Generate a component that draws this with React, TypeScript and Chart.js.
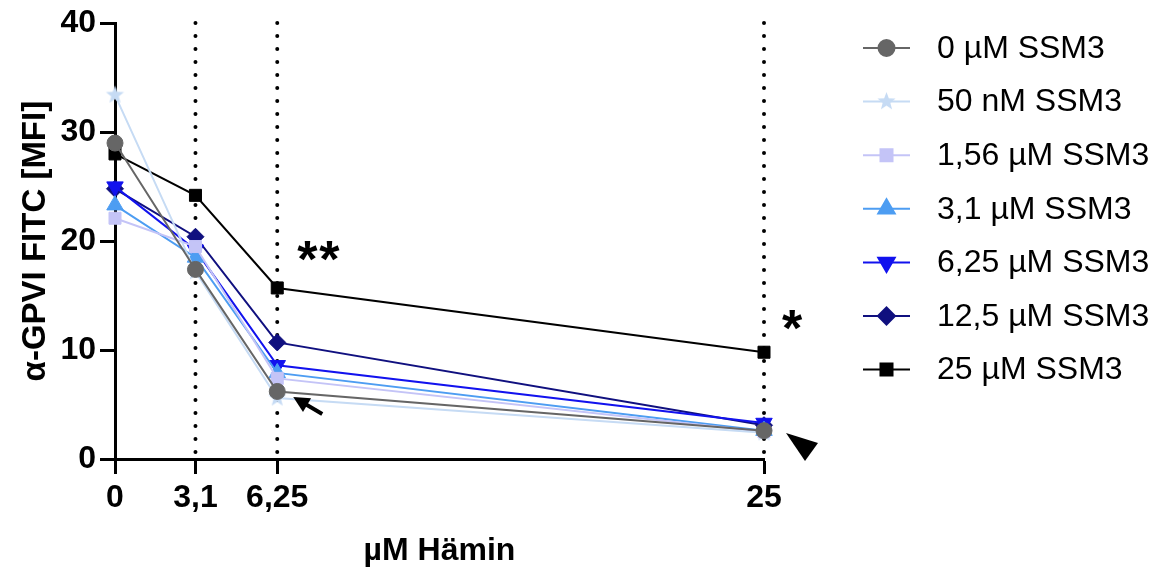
import React, { useEffect, useRef } from "react";
import { Chart, registerables } from "chart.js";
import { drawPoint } from "chart.js/helpers";

Chart.register(...registerables);

// ---- data ----
const heminConc = [0, 3.1, 6.25, 25];
const xTickLabels = ["0", "3,1", "6,25", "25"];
const yTickValues = [0, 10, 20, 30, 40];
const dottedAt = [3.1, 6.25, 25];
const seriesLabels = [
  "0 µM SSM3",
  "50 nM SSM3",
  "1,56 µM SSM3",
  "3,1 µM SSM3",
  "6,25 µM SSM3",
  "12,5 µM SSM3",
  "25 µM SSM3",
];
const ssm3_0 = [29.0, 17.4, 6.2, 2.6];
const ssm3_50n = [33.4, 17.2, 5.6, 2.4];
const ssm3_1_56 = [22.1, 19.5, 7.4, 2.5];
const ssm3_3_1 = [23.3, 18.5, 7.9, 2.6];
const ssm3_6_25 = [25.0, 19.2, 8.6, 3.3];
const ssm3_12_5 = [24.8, 20.4, 10.7, 3.1];
const ssm3_25 = [28.0, 24.2, 15.7, 9.8];
const seriesValues = [ssm3_0, ssm3_50n, ssm3_1_56, ssm3_3_1, ssm3_6_25, ssm3_12_5, ssm3_25];

// ---- styles ----
const seriesColors = ["#666666", "#c6dbf4", "#c4c4f7", "#4d9df2", "#1212ee", "#10107f", "#000000"];
const FONT = "'Liberation Sans', Arial, sans-serif";

function makeStar(color: string, outer: number, inner: number) {
  const c = document.createElement("canvas");
  const s = Math.ceil(outer * 2 + 2);
  c.width = s;
  c.height = s;
  const ctx = c.getContext("2d")!;
  ctx.fillStyle = color;
  ctx.beginPath();
  for (let i = 0; i < 10; i++) {
    const r = i % 2 === 0 ? outer : inner;
    const a = -Math.PI / 2 + (i * Math.PI) / 5;
    const px = s / 2 + r * Math.cos(a);
    const py = s / 2 + r * Math.sin(a);
    if (i === 0) ctx.moveTo(px, py);
    else ctx.lineTo(px, py);
  }
  ctx.closePath();
  ctx.fill();
  return c;
}

export default function App() {
  const ref = useRef<HTMLCanvasElement | null>(null);

  useEffect(() => {
    if (!ref.current) return;
    Chart.defaults.font.family = FONT;
    const star = makeStar(seriesColors[1], 9.5, 4);
    const markerStyles: any[] = [
      { style: "circle", rot: 0, r: 8 },
      { style: star, rot: 0, r: 9 },
      { style: "rect", rot: 0, r: 8.5 },
      { style: "triangle", rot: 0, r: 9.5 },
      { style: "triangle", rot: 180, r: 9.5 },
      { style: "rectRot", rot: 0, r: 8.5 },
      { style: "rect", rot: 0, r: 8.5 },
    ];

    const datasets = seriesValues.map((vals, i) => ({
      label: seriesLabels[i],
      data: heminConc.map((x, j) => ({ x, y: vals[j] })),
      showLine: true,
      borderColor: seriesColors[i],
      backgroundColor: seriesColors[i],
      borderWidth: 2,
      pointStyle: markerStyles[i].style,
      pointRotation: markerStyles[i].rot,
      pointRadius: markerStyles[i].r,
      pointBorderWidth: 1,
      pointBorderColor: seriesColors[i],
      pointBackgroundColor: seriesColors[i],
      clip: false as any,
    }));

    const dottedPlugin = {
      id: "dotted",
      beforeDatasetsDraw(chart: any) {
        const { ctx, scales } = chart;
        const yTop = scales.y.getPixelForValue(40);
        const yBot = scales.y.getPixelForValue(0);
        ctx.save();
        ctx.strokeStyle = "#000";
        ctx.lineWidth = 4;
        ctx.lineCap = "round";
        ctx.setLineDash([0, 13]);
        dottedAt.forEach((v) => {
          const x = scales.x.getPixelForValue(v);
          ctx.beginPath();
          ctx.moveTo(x, yBot - 7);
          ctx.lineTo(x, yTop - 2);
          ctx.stroke();
        });
        ctx.restore();
      },
    };

    const legendPlugin = {
      id: "customLegend",
      afterDraw(chart: any) {
        const { ctx, chartArea } = chart;
        const x0 = chartArea.right + 99;
        const x1 = chartArea.right + 146;
        const tx = chartArea.right + 173;
        const y0 = 48;
        const gap = 53.6;
        ctx.save();
        chart.data.datasets.forEach((ds: any, i: number) => {
          const y = y0 + i * gap;
          ctx.strokeStyle = ds.borderColor;
          ctx.lineWidth = 2;
          ctx.beginPath();
          ctx.moveTo(x0, y);
          ctx.lineTo(x1, y);
          ctx.stroke();
          ctx.fillStyle = ds.backgroundColor;
          drawPoint(ctx, {
            pointStyle: markerStyles[i].style,
            rotation: markerStyles[i].rot,
            radius: markerStyles[i].r,
            borderWidth: 1,
          } as any, (x0 + x1) / 2, y);
          ctx.fillStyle = "#000";
          ctx.font = `32px ${FONT}`;
          ctx.textBaseline = "middle";
          ctx.textAlign = "left";
          ctx.fillText(ds.label, tx, y + 1);
        });
        ctx.restore();
      },
    };

    const annotationPlugin = {
      id: "annot",
      afterDraw(chart: any) {
        const { ctx, scales } = chart;
        const x625 = scales.x.getPixelForValue(6.25);
        const x25 = scales.x.getPixelForValue(25);
        const y0 = scales.y.getPixelForValue(0);
        const yS25_625 = scales.y.getPixelForValue(ssm3_25[2]);
        const yS25_25 = scales.y.getPixelForValue(ssm3_25[3]);
        ctx.save();
        ctx.fillStyle = "#000";
        ctx.font = `bold 52px ${FONT}`;
        ctx.textAlign = "center";
        ctx.textBaseline = "alphabetic";
        ctx.fillText("*", x625 + 30, yS25_625 - 11);
        ctx.fillText("*", x625 + 52, yS25_625 - 11);
        ctx.fillText("*", x25 + 28, yS25_25 - 6);
        // arrow
        const tipX = x625 + 16, tipY = y0 - 62;
        const tailX = x625 + 45, tailY = y0 - 45;
        const ang = Math.atan2(tailY - tipY, tailX - tipX);
        ctx.strokeStyle = "#000";
        ctx.lineWidth = 4;
        ctx.beginPath();
        ctx.moveTo(tailX, tailY);
        ctx.lineTo(tipX + Math.cos(ang) * 10, tipY + Math.sin(ang) * 10);
        ctx.stroke();
        const hl = 16, hw = 8;
        const bx = tipX + Math.cos(ang) * hl, by = tipY + Math.sin(ang) * hl;
        ctx.beginPath();
        ctx.moveTo(tipX, tipY);
        ctx.lineTo(bx - Math.sin(ang) * hw, by + Math.cos(ang) * hw);
        ctx.lineTo(bx + Math.sin(ang) * hw, by - Math.cos(ang) * hw);
        ctx.closePath();
        ctx.fill();
        // triangle arrowhead
        ctx.beginPath();
        ctx.moveTo(x25 + 22, y0 - 26);
        ctx.lineTo(x25 + 54, y0 - 16);
        ctx.lineTo(x25 + 41, y0 + 2);
        ctx.closePath();
        ctx.fill();
        ctx.restore();
      },
    };

    const chart = new Chart(ref.current, {
      type: "scatter",
      data: { datasets: datasets as any },
      options: {
        animation: false,
        responsive: false,
        layout: { padding: { left: 10, right: 399, top: 23, bottom: 4 } },
        plugins: { legend: { display: false }, tooltip: { enabled: false } },
        scales: {
          x: {
            type: "linear",
            min: 0,
            max: 25,
            afterBuildTicks: (axis: any) => {
              axis.ticks = heminConc.map((v) => ({ value: v }));
            },
            afterFit: (scale: any) => {
              scale.height = 574 - 4 - 459;
            },
            ticks: {
              autoSkip: false,
              maxRotation: 0,
              color: "#000",
              font: { size: 32, weight: "bold" },
              padding: 5,
              callback: (_v: any, i: number) => xTickLabels[i],
            },
            grid: {
              drawOnChartArea: false,
              drawTicks: true,
              tickLength: 15,
              tickWidth: 3,
              tickColor: "#000",
              color: "#000",
            },
            border: { display: true, color: "#000", width: 3 },
            title: {
              display: true,
              text: "µM Hämin",
              color: "#000",
              font: { size: 32, weight: "bold" },
              padding: { top: 0, bottom: 0 },
            },
          },
          y: {
            type: "linear",
            min: 0,
            max: 40,
            afterBuildTicks: (axis: any) => {
              axis.ticks = yTickValues.map((v) => ({ value: v }));
            },
            afterFit: (scale: any) => {
              scale.width = 115 - 10;
            },
            ticks: {
              color: "#000",
              font: { size: 32, weight: "bold" },
              padding: 4,
            },
            grid: {
              drawOnChartArea: false,
              drawTicks: true,
              tickLength: 15,
              tickWidth: 3,
              tickColor: "#000",
              color: "#000",
            },
            border: { display: true, color: "#000", width: 3 },
            title: {
              display: true,
              text: "α-GPVI FITC [MFI]",
              color: "#000",
              font: { size: 33, weight: "bold" },
              padding: { top: 6, bottom: 0 },
            },
          },
        },
      },
      plugins: [dottedPlugin, legendPlugin, annotationPlugin],
    });
    return () => chart.destroy();
  }, []);

  return (
    <div style={{ position: "fixed", left: 0, top: 0, width: 1163, height: 574, background: "#fff" }}>
      <canvas ref={ref} width={1163} height={574} style={{ display: "block" }} />
    </div>
  );
}
